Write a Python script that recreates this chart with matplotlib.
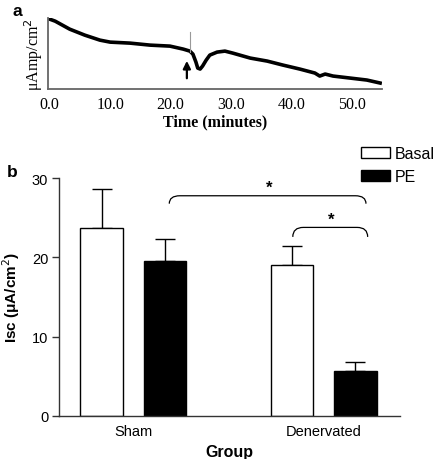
import numpy as np
import matplotlib
matplotlib.use("Agg")
import matplotlib.pyplot as plt
from matplotlib.patches import Patch, PathPatch
from matplotlib.path import Path

# ---- panel a: Isc trace (arbitrary units) ----
trace_t = [0.0, 0.9, 3.3, 5.8, 8.3, 10.0, 13.3, 16.6, 19.9, 22.1, 23.2, 23.7,
           24.2, 24.5, 24.9, 25.3, 25.9, 26.5, 27.7, 29.0, 30.3, 33.2, 36.0,
           38.6, 41.4, 43.9, 44.7, 45.6, 46.9, 49.7, 52.5, 54.7]
trace_v = [70, 68, 60, 54, 49, 47, 46, 44, 43, 40, 38, 35,
           27, 21, 20, 23, 29, 34, 37, 38, 36, 31, 28,
           24, 20, 16, 13, 15, 13, 11, 9, 6]
time_ticks = [0, 10, 20, 30, 40, 50]
pe_time = 22.7      # arrow: PE addition
spike_time = 23.2
spike_v = [37, 57]

# ---- panel b: bar chart ----
groups = ["Sham", "Denervated"]
basal = [23.7, 19.0]
basal_err = [4.9, 2.4]
pe = [19.5, 5.6]
pe_err = [2.8, 1.2]

fig = plt.figure(figsize=(4.36, 4.60), dpi=100)

# ------------------ panel a ------------------
serif = "Liberation Serif"
ax1 = fig.add_axes([0.110, 0.8043, 0.766, 0.154])
ax1.plot(trace_t, trace_v, color="black", lw=2.6, solid_joinstyle="round")
ax1.plot([spike_time, spike_time], spike_v, color="#999999", lw=0.8)
ax1.annotate("", xy=(pe_time, 31), xytext=(pe_time, 8),
             arrowprops=dict(arrowstyle="-|>", color="black", lw=1.6,
                             mutation_scale=11))
ax1.set_xlim(-0.3, 55.0)
ax1.set_ylim(0, 71)
ax1.set_xticks(time_ticks)
ax1.set_xticklabels(["%.1f" % t for t in time_ticks], family=serif, fontsize=11.5)
ax1.set_yticks([])
ax1.tick_params(axis="x", length=0, pad=5)
for s in ["top", "right"]:
    ax1.spines[s].set_visible(False)
for s in ["left", "bottom"]:
    ax1.spines[s].set_color("#666666")
    ax1.spines[s].set_linewidth(1.3)
ax1.set_xlabel("Time (minutes)", family=serif, fontweight="bold", fontsize=11.5,
               labelpad=1)
ax1.set_ylabel("\u03bcAmp/cm$^2$", family=serif, fontsize=11.5, labelpad=2)
fig.text(17 / 436, 1 - 12 / 460, "a", fontsize=12.5, fontweight="bold",
         family="Liberation Sans", ha="center", va="center")

# ------------------ panel b ------------------
sans = "Liberation Sans"
ax2 = fig.add_axes([0.136, 0.0941, 0.781, 0.516])
x_basal = np.array([0.0, 4.5])
x_pe = x_basal + 1.5
w = 1.0
ax2.bar(x_basal, basal, width=w, color="white", edgecolor="black", lw=1.0, zorder=2)
ax2.bar(x_pe, pe, width=w, color="black", edgecolor="black", lw=1.0, zorder=2)
ax2.errorbar(x_basal, basal, yerr=[np.zeros(2), basal_err], fmt="none",
             ecolor="black", elinewidth=1.0, capsize=7.5, capthick=1.0, zorder=1)
ax2.errorbar(x_pe, pe, yerr=[np.zeros(2), pe_err], fmt="none",
             ecolor="black", elinewidth=1.0, capsize=7.5, capthick=1.0, zorder=1)

ax2.set_xlim(-1.0, 7.05)
ax2.set_ylim(0, 30)
ax2.set_yticks([0, 10, 20, 30])
ax2.set_xticks((x_basal + x_pe) / 2)
ax2.set_xticklabels(groups, family=sans, fontsize=10.5)
for lbl in ax2.get_yticklabels():
    lbl.set_family(sans)
    lbl.set_fontsize(10.5)
ax2.tick_params(axis="x", length=0, pad=6)
ax2.tick_params(axis="y", length=5, width=1.0, color="#333333", pad=3)
for s in ["top", "right"]:
    ax2.spines[s].set_visible(False)
for s in ["left", "bottom"]:
    ax2.spines[s].set_color("#333333")
    ax2.spines[s].set_linewidth(1.0)
ax2.set_xlabel("Group", family=sans, fontweight="bold", fontsize=11.5, labelpad=4)
ax2.set_ylabel("Isc (\u03bcA/cm$^2$)", family=sans, fontweight="bold",
               fontsize=11, labelpad=7)


def brace(ax, x0, x1, y, drop=1.0, r=0.25):
    verts = [(x0, y - drop), (x0, y), (x0 + r, y), (x1 - r, y), (x1, y), (x1, y - drop)]
    codes = [Path.MOVETO, Path.CURVE3, Path.CURVE3, Path.LINETO, Path.CURVE3, Path.CURVE3]
    ax.add_patch(PathPatch(Path(verts, codes), fill=False, lw=0.9,
                           edgecolor="black", clip_on=False))


brace(ax2, 1.6, 6.25, 27.8, drop=1.0)
ax2.text(3.97, 28.9, "*", ha="center", va="center", fontsize=12,
         fontweight="bold", family=sans)
brace(ax2, 4.52, 6.29, 23.8, drop=1.2)
ax2.text(5.43, 24.8, "*", ha="center", va="center", fontsize=12,
         fontweight="bold", family=sans)

handles = [Patch(facecolor="white", edgecolor="black", lw=1.0),
           Patch(facecolor="black", edgecolor="black", lw=1.0)]
fig.legend(handles, ["Basal", "PE"], loc="upper right",
           bbox_to_anchor=(0.997, 1 - 147 / 460), frameon=False,
           prop={"family": sans, "size": 11.5}, handlelength=1.8,
           handleheight=0.7, handletextpad=0.3, labelspacing=0.5,
           borderpad=0, borderaxespad=0)

fig.text(12 / 436, 1 - 173 / 460, "b", fontsize=12.5, fontweight="bold",
         family=sans, ha="center", va="center")

fig.savefig("out.png", dpi=100)
